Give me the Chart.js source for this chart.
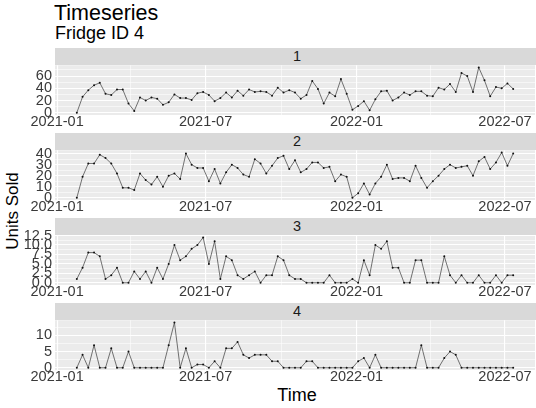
<!DOCTYPE html>
<html>
<head>
<meta charset="utf-8">
<script src="https://cdn.jsdelivr.net/npm/chart.js@4.4.1/dist/chart.umd.min.js"></script>
<style>
  html, body { margin: 0; padding: 0; background: #fff; }
  body { width: 536px; height: 408px; overflow: hidden; position: relative;
         font-family: "Liberation Sans", Arial, sans-serif; }
  .txt { position: absolute; white-space: nowrap; color: #000; }
  .strip { position: absolute; left: 55px; width: 484px; height: 17px; background: #D9D9D9;
           color: #1A1A1A; font-size: 14.5px; line-height: 17px; text-align: center; }
  .panel { position: absolute; left: 0; top: 0; }
</style>
</head>
<body>
<div class="txt" style="left:54px;top:3px;font-size:21.5px;line-height:21px;">Timeseries</div>
<div class="txt" style="left:55px;top:24px;font-size:18px;line-height:18px;">Fridge ID 4</div>
<div class="txt" style="left:-87px;top:201px;width:200px;height:20px;font-size:17px;line-height:20px;text-align:center;transform:rotate(-90deg);">Units Sold</div>
<div class="txt" style="left:197px;top:386px;width:200px;font-size:18px;line-height:18px;text-align:center;">Time</div>
<div id="root"></div>
<script>
// Weekly observation dates
const weeks = [
  "2021-01-25","2021-02-01","2021-02-08","2021-02-15","2021-02-22","2021-03-01","2021-03-08","2021-03-15","2021-03-22","2021-03-29",
  "2021-04-05","2021-04-12","2021-04-19","2021-04-26","2021-05-03","2021-05-10","2021-05-17","2021-05-24","2021-05-31","2021-06-07",
  "2021-06-14","2021-06-21","2021-06-28","2021-07-05","2021-07-12","2021-07-19","2021-07-26","2021-08-02","2021-08-09","2021-08-16",
  "2021-08-23","2021-08-30","2021-09-06","2021-09-13","2021-09-20","2021-09-27","2021-10-04","2021-10-11","2021-10-18","2021-10-25",
  "2021-11-01","2021-11-08","2021-11-15","2021-11-22","2021-11-29","2021-12-06","2021-12-13","2021-12-20","2021-12-27","2022-01-03",
  "2022-01-10","2022-01-17","2022-01-24","2022-01-31","2022-02-07","2022-02-14","2022-02-21","2022-02-28","2022-03-07","2022-03-14",
  "2022-03-21","2022-03-28","2022-04-04","2022-04-11","2022-04-18","2022-04-25","2022-05-02","2022-05-09","2022-05-16","2022-05-23",
  "2022-05-30","2022-06-06","2022-06-13","2022-06-20","2022-06-27","2022-07-04","2022-07-11"
];

// Units sold per week, one series per facet
const units1 = [0,26,37,45,49,31,29,38,38,15,3,25,20,25,23,13,17,30,24,24,21,32,34,29,19,24,33,25,36,28,38,34,35,34,28,41,33,37,33,23,29,52,39,15,33,27,55,31,5,11,19,4,22,35,36,20,25,33,29,35,35,28,27,41,38,47,34,65,60,34,74,53,27,42,40,48,39];
const units2 = [0,19,31,31,39,36,31,22,9,9,7,22,16,12,19,10,20,22,17,40,30,27,27,15,26,13,23,30,27,21,19,35,31,22,29,36,38,26,34,23,26,32,32,27,28,15,21,19,0,4,13,3,13,19,30,17,18,18,15,29,18,9,15,20,26,30,27,28,29,20,33,37,26,32,41,29,40];
const units3 = [1,4,8,8,7,1,2,4,0,0,3,1,3,0,4,1,5,10,6,7,9,10,12,5,11,1,7,6,2,1,2,3,0,2,2,7,6,2,1,1,0,0,0,0,2,0,0,0,1,0,6,2,10,9,11,4,4,0,0,6,6,0,0,0,7,2,0,2,0,0,2,0,0,2,0,2,2];
const units4 = [0,4,0,7,0,0,6,0,0,5,0,0,0,0,0,0,7,14,0,6,0,1,1,0,2,0,6,6,8,4,3,4,4,4,2,2,0,0,0,0,2,2,0,0,0,0,0,0,0,2,3,0,4,0,0,0,0,0,0,0,7,0,0,0,3,5,4,0,0,0,0,0,0,0,0,0,0];

const facetNames = ["1", "2", "3", "4"];

// Time axis breaks
const xBreaks = ["2021-01-01", "2021-07-01", "2022-01-01", "2022-07-01"];
const xLabels = ["2021-01", "2021-07", "2022-01", "2022-07"];
const xMinorBreaks = ["2021-04-01", "2021-10-01", "2022-04-01"];

// Value axis breaks and labels per facet
const yBreaks1 = [0, 20, 40, 60];            const yLabels1 = ["0", "20", "40", "60"];
const yMinor1  = [10, 30, 50, 70];
const yBreaks2 = [0, 10, 20, 30, 40];        const yLabels2 = ["0", "10", "20", "30", "40"];
const yMinor2  = [5, 15, 25, 35];
const yBreaks3 = [0, 2.5, 5, 7.5, 10, 12.5]; const yLabels3 = ["0.0", "2.5", "5.0", "7.5", "10.0", "12.5"];
const yMinor3  = [1.25, 3.75, 6.25, 8.75, 11.25];
const yBreaks4 = [0, 5, 10];                 const yLabels4 = ["0", "5", "10"];
const yMinor4  = [2.5, 7.5, 12.5];

const facets = [
  { values: units1, breaks: yBreaks1, labels: yLabels1, minor: yMinor1 },
  { values: units2, breaks: yBreaks2, labels: yLabels2, minor: yMinor2 },
  { values: units3, breaks: yBreaks3, labels: yLabels3, minor: yMinor3 },
  { values: units4, breaks: yBreaks4, labels: yLabels4, minor: yMinor4 }
];

const DAY = 86400000;
const origin = Date.UTC(2021, 0, 1);
const toDay = s => { const [y, m, d] = s.split("-").map(Number); return (Date.UTC(y, m - 1, d) - origin) / DAY; };

const xs = weeks.map(toDay);
const xLo = Math.min(...xs), xHi = Math.max(...xs);
const xPad = 0.05 * (xHi - xLo);
const xMin = xLo - xPad, xMax = xHi + xPad;
const xMajor = xBreaks.map(toDay);
const xMinor = xMinorBreaks.map(toDay);

const PANEL_TOP = 65, PANEL_STEP = 85, PANEL_H = 50, TOP_PAD = 10, AXIS_H = 20;
const LEFT = 55, WIDTH = 539;
const tickFont = { family: "'Liberation Sans', Arial, sans-serif", size: 14.5, lineHeight: 1 };
const tickColor = "#3a3a3a";

const panelBg = {
  id: "panelBg",
  beforeDraw(chart) {
    const a = chart.chartArea, c = chart.ctx;
    c.save();
    c.fillStyle = "#EBEBEB";
    c.fillRect(a.left, a.top, a.right - a.left, a.bottom - a.top);
    c.restore();
  }
};

const root = document.getElementById("root");

facets.forEach((f, i) => {
  const panelTop = PANEL_TOP + PANEL_STEP * i;

  const strip = document.createElement("div");
  strip.className = "strip";
  strip.style.top = (panelTop - 17) + "px";
  strip.textContent = facetNames[i];
  root.appendChild(strip);

  const cv = document.createElement("canvas");
  cv.className = "panel";
  cv.width = WIDTH;
  cv.height = TOP_PAD + PANEL_H + AXIS_H;
  cv.style.top = (panelTop - TOP_PAD) + "px";
  cv.style.width = WIDTH + "px";
  cv.style.height = cv.height + "px";
  root.appendChild(cv);

  const lo = Math.min(...f.values), hi = Math.max(...f.values);
  const pad = 0.05 * (hi - lo);
  const yMin = lo - pad, yMax = hi + pad;

  new Chart(cv, {
    type: "line",
    data: {
      datasets: [{
        data: f.values.map((v, k) => ({ x: xs[k], y: v })),
        borderColor: "#3a3a3a",
        borderWidth: 0.7,
        pointRadius: 1,
        pointBackgroundColor: "#111",
        pointBorderWidth: 0,
        tension: 0,
        fill: false
      }]
    },
    options: {
      responsive: false,
      animation: false,
      layout: { padding: { top: TOP_PAD, left: 0, right: 0, bottom: 0 } },
      plugins: { legend: { display: false }, tooltip: { enabled: false } },
      scales: {
        x: {
          type: "linear",
          min: xMin, max: xMax,
          afterBuildTicks: s => {
            s.ticks = xMajor.map(v => ({ value: v, major: true }))
              .concat(xMinor.map(v => ({ value: v, major: false })))
              .filter(t => t.value >= xMin && t.value <= xMax)
              .sort((a, b) => a.value - b.value);
          },
          afterFit: s => { s.height = AXIS_H; },
          border: { display: false },
          grid: {
            color: "#FFFFFF",
            lineWidth: c => (c.tick && c.tick.major ? 1.1 : 0.55),
            drawTicks: false
          },
          ticks: {
            autoSkip: false, maxRotation: 0, minRotation: 0, padding: 0,
            color: tickColor, font: tickFont,
            callback: v => { const k = xMajor.indexOf(v); return k >= 0 ? xLabels[k] : ""; }
          }
        },
        y: {
          type: "linear",
          min: yMin, max: yMax,
          afterBuildTicks: s => {
            s.ticks = f.breaks.map(v => ({ value: v, major: true }))
              .concat(f.minor.map(v => ({ value: v, major: false })))
              .filter(t => t.value >= yMin && t.value <= yMax)
              .sort((a, b) => a.value - b.value);
          },
          afterFit: s => { s.width = LEFT; },
          border: { display: false },
          grid: {
            color: "#FFFFFF",
            lineWidth: c => (c.tick && c.tick.major ? 1.1 : 0.55),
            drawTicks: false
          },
          ticks: {
            autoSkip: false, padding: 3,
            color: tickColor, font: tickFont,
            callback: v => { const k = f.breaks.indexOf(v); return k >= 0 ? f.labels[k] : ""; }
          }
        }
      }
    },
    plugins: [panelBg]
  });
});
</script>
</body>
</html>
